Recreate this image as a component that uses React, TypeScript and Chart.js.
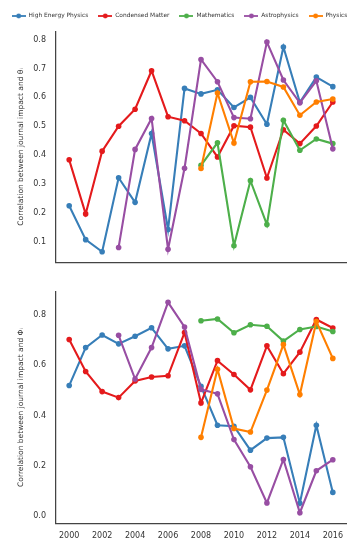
import React, { useEffect, useRef } from 'react';
import { Chart, registerables } from 'chart.js';

Chart.register(...registerables);

const YEARS = [2000, 2001, 2002, 2003, 2004, 2005, 2006, 2007, 2008, 2009, 2010, 2011, 2012, 2013, 2014, 2015, 2016];
const SERIES_NAMES = ['High Energy Physics', 'Condensed Matter', 'Mathematics', 'Astrophysics', 'Physics'];
const COLORS = ['#377eb8', '#e41a1c', '#4daf4a', '#984ea3', '#ff7f00'];

// Top panel: correlation with theta_i
const THETA_HEP = [0.225, 0.108, 0.066, 0.322, 0.237, 0.475, 0.143, 0.631, 0.612, 0.626, 0.565, 0.600, 0.507, 0.774, 0.583, 0.670, 0.637];
const THETA_CM = [0.384, 0.197, 0.414, 0.500, 0.559, 0.692, 0.533, 0.519, 0.475, 0.394, 0.502, 0.497, 0.321, 0.488, 0.440, 0.501, 0.584];
const THETA_MATH = [null, null, null, null, null, null, null, null, 0.365, 0.443, 0.087, 0.312, 0.160, 0.521, 0.417, 0.456, 0.440];
const THETA_ASTRO = [null, null, null, 0.081, 0.420, 0.527, 0.075, 0.355, 0.731, 0.654, 0.530, 0.526, 0.791, 0.660, 0.581, 0.657, 0.422];
const THETA_PHYS = [null, null, null, null, null, null, null, null, 0.354, 0.615, 0.442, 0.654, 0.655, 0.636, 0.538, 0.584, 0.594];

// Bottom panel: correlation with Phi_i
const PHI_HEP = [0.519, 0.670, 0.720, 0.685, 0.715, 0.749, 0.665, 0.677, 0.516, 0.361, 0.357, 0.262, 0.310, 0.313, 0.051, 0.361, 0.094];
const PHI_CM = [0.702, 0.575, 0.495, 0.471, 0.537, 0.553, 0.558, 0.730, 0.450, 0.618, 0.563, 0.502, 0.677, 0.566, 0.652, 0.782, 0.748];
const PHI_MATH = [null, null, null, null, null, null, null, null, 0.777, 0.784, 0.729, 0.761, 0.755, 0.696, 0.742, 0.754, 0.734];
const PHI_ASTRO = [null, null, null, 0.719, 0.545, 0.670, 0.850, 0.752, 0.504, 0.486, 0.304, 0.196, 0.052, 0.225, 0.013, 0.180, 0.224];
const PHI_PHYS = [null, null, null, null, null, null, null, null, 0.313, 0.584, 0.348, 0.334, 0.501, 0.682, 0.483, 0.774, 0.627];

const X_TICKS = [2000, 2002, 2004, 2006, 2008, 2010, 2012, 2014, 2016];
const THETA_TICKS = [0.1, 0.2, 0.3, 0.4, 0.5, 0.6, 0.7, 0.8];
const PHI_TICKS = [0.0, 0.2, 0.4, 0.6, 0.8];
const X_RANGE = [1999.2, 2016.8];
const THETA_RANGE = [0.03, 0.827];
const PHI_RANGE = [-0.029, 0.892];

const THETA_TITLE = 'Correlation between journal impact and θᵢ';
const PHI_TITLE = 'Correlation between journal impact and Φᵢ';

const FONT = 'DejaVu Sans';
const TEXT = '#333333';
const SPINE = '#444444';

function makeIcon(color: string) {
  const c = document.createElement('canvas');
  c.width = 14;
  c.height = 6;
  const ctx = c.getContext('2d')!;
  ctx.strokeStyle = color;
  ctx.lineWidth = 1.8;
  ctx.beginPath();
  ctx.moveTo(0, 3);
  ctx.lineTo(14, 3);
  ctx.stroke();
  ctx.fillStyle = color;
  ctx.beginPath();
  ctx.arc(7, 3, 2.4, 0, Math.PI * 2);
  ctx.fill();
  return c;
}

function buildDatasets(series: (number | null)[][]) {
  return series.map((vals, i) => ({
    label: SERIES_NAMES[i],
    data: YEARS.map((yr, j) => ({ x: yr, y: vals[j] })),
    borderColor: COLORS[i],
    backgroundColor: COLORS[i],
    pointBackgroundColor: COLORS[i],
    pointBorderWidth: 0,
    pointRadius: 2.8,
    borderWidth: 2.1,
    spanGaps: false,
    order: 5 - i,
  }));
}

function makeConfig(opts: {
  series: (number | null)[][];
  yRange: number[];
  yTicks: number[];
  title: string;
  showLegend: boolean;
  showXTicks: boolean;
  padding: any;
  xHeight: number;
  legendHeight: number;
}) {
  const icons = COLORS.map(makeIcon);
  return {
    type: 'line' as const,
    data: { datasets: buildDatasets(opts.series) },
    options: {
      responsive: false,
      animation: false,
      layout: { padding: opts.padding },
      plugins: {
        tooltip: { enabled: false },
        legend: {
          display: opts.showLegend,
          position: 'top',
          labels: {
            usePointStyle: true,
            pointStyleWidth: 14,
            padding: 10,
            color: TEXT,
            font: { family: FONT, size: 5.9 },
            sort: (a: any, b: any) => a.datasetIndex - b.datasetIndex,
            generateLabels: (chart: any) =>
              Chart.defaults.plugins.legend.labels
                .generateLabels(chart)
                .map((l: any) => ({ ...l, pointStyle: icons[l.datasetIndex] })),
          },
        },
      },
      scales: {
        x: {
          type: 'linear',
          min: X_RANGE[0],
          max: X_RANGE[1],
          grid: { display: true, drawOnChartArea: false, drawTicks: false },
          border: { display: true, color: SPINE, width: 1.25 },
          afterBuildTicks: (s: any) => {
            s.ticks = X_TICKS.map((v) => ({ value: v }));
          },
          afterFit: (s: any) => {
            s.height = opts.xHeight;
          },
          ticks: {
            display: opts.showXTicks,
            padding: 8,
            color: TEXT,
            font: { family: FONT, size: 8 },
            maxRotation: 0,
            autoSkip: false,
            callback: (v: any) => String(v),
          },
        },
        y: {
          type: 'linear',
          min: opts.yRange[0],
          max: opts.yRange[1],
          grid: { display: true, drawOnChartArea: false, drawTicks: false },
          border: { display: true, color: SPINE, width: 1.25 },
          afterBuildTicks: (s: any) => {
            s.ticks = opts.yTicks.map((v) => ({ value: v }));
          },
          afterFit: (s: any) => {
            s.width = 56;
          },
          title: {
            display: true,
            text: opts.title,
            color: TEXT,
            font: { family: FONT, size: 7.5 },
            padding: { top: 17, bottom: 0 },
          },
          ticks: {
            padding: 10,
            color: TEXT,
            font: { family: FONT, size: 8 },
            autoSkip: false,
            callback: (v: any) => Number(v).toFixed(1),
          },
        },
        spacer: {
          type: 'linear',
          position: 'right',
          display: true,
          grid: { display: false },
          border: { display: false },
          ticks: { display: false },
          afterFit: (s: any) => {
            s.width = 13;
          },
        },
      },
    },
    plugins: [
      {
        id: 'legendHeight',
        beforeInit(chart: any) {
          if (!chart.legend) return;
          const orig = chart.legend.fit;
          chart.legend.fit = function () {
            orig.call(this);
            this.height = opts.legendHeight;
          };
        },
      },
    ],
  };
}

export default function App() {
  const topRef = useRef<HTMLCanvasElement>(null);
  const botRef = useRef<HTMLCanvasElement>(null);

  useEffect(() => {
    Chart.defaults.font.family = FONT;
    const top = new Chart(
      topRef.current!,
      makeConfig({
        series: [THETA_HEP, THETA_CM, THETA_MATH, THETA_ASTRO, THETA_PHYS],
        yRange: THETA_RANGE,
        yTicks: THETA_TICKS,
        title: THETA_TITLE,
        showLegend: true,
        showXTicks: false,
        padding: { left: 0, right: 0, top: 3, bottom: 3.7 },
        xHeight: 0,
        legendHeight: 28.7,
      }) as any
    );
    const bot = new Chart(
      botRef.current!,
      makeConfig({
        series: [PHI_HEP, PHI_CM, PHI_MATH, PHI_ASTRO, PHI_PHYS],
        yRange: PHI_RANGE,
        yTicks: PHI_TICKS,
        title: PHI_TITLE,
        showLegend: false,
        showXTicks: true,
        padding: { left: 0, right: 0, top: 4.7, bottom: 0 },
        xHeight: 27.7,
        legendHeight: 0,
      }) as any
    );
    return () => {
      top.destroy();
      bot.destroy();
    };
  }, []);

  return (
    <div style={{ position: 'absolute', left: 0, top: 0, width: 359, height: 551, background: '#fff' }}>
      <canvas ref={topRef} width={359} height={277} style={{ position: 'absolute', left: 0, top: 0, width: 359, height: 277 }} />
      <canvas ref={botRef} width={359} height={274} style={{ position: 'absolute', left: 0, top: 277, width: 359, height: 274 }} />
    </div>
  );
}
